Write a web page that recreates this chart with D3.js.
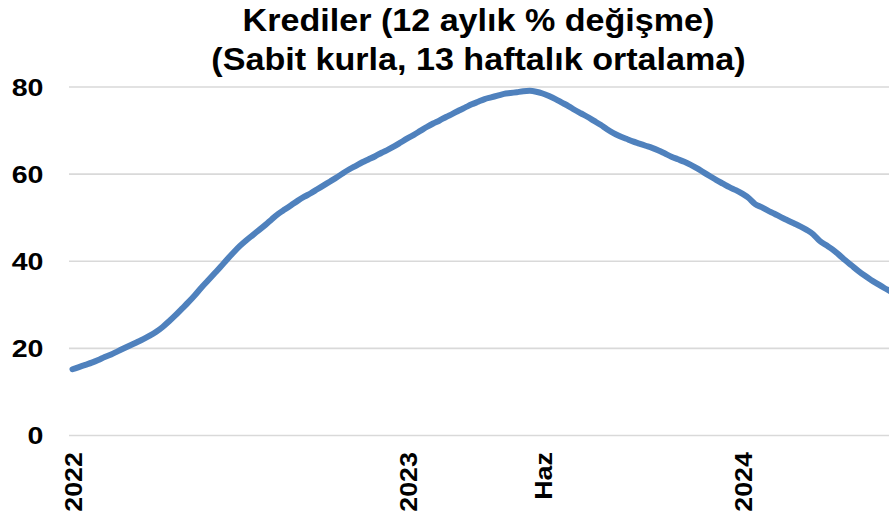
<!DOCTYPE html>
<html>
<head>
<meta charset="utf-8">
<script src="https://cdn.jsdelivr.net/npm/d3@7"></script>
<style>
  body { margin: 0; background: #fff; }
  svg { display: block; font-family: "Liberation Sans", Arial, sans-serif; }
</style>
</head>
<body>
<svg id="chart" width="889" height="517"></svg>
<script>
// weekly series, first week of 2022 onward (Friday dates)
const startDate = '2022-01-07';
const krediler = [
  15.1, 15.6, 16.1, 16.6, 17.2, 17.9, 18.5, 19.2, 19.9, 20.6,
  21.3, 22.0, 22.8, 23.7, 24.8, 26.1, 27.5, 29.0, 30.5, 32.1,
  33.8, 35.4, 37.0, 38.6, 40.3, 41.9, 43.4, 44.7, 45.9, 47.1,
  48.3, 49.6, 50.8, 51.8, 52.8, 53.8, 54.7, 55.5, 56.4, 57.3,
  58.2, 59.1, 60.1, 61.0, 61.8, 62.6, 63.3, 64.0, 64.8, 65.5,
  66.3, 67.2, 68.1, 68.9, 69.8, 70.7, 71.5, 72.2, 73.0, 73.7,
  74.5, 75.2, 75.9, 76.5, 77.1, 77.5, 77.9, 78.3, 78.5, 78.7,
  78.9, 79.0, 78.8, 78.4, 77.8, 77.1, 76.3, 75.5, 74.6, 73.8,
  73.0, 72.1, 71.2, 70.2, 69.3, 68.6, 68.0, 67.4, 66.9, 66.4,
  65.9, 65.3, 64.6, 63.9, 63.3, 62.7, 62.0, 61.2, 60.3, 59.4,
  58.5, 57.7, 56.9, 56.2, 55.4, 54.4, 53.0, 52.3, 51.5, 50.8,
  50.0, 49.3, 48.6, 47.9, 47.1, 46.1, 44.6, 43.6, 42.6, 41.4,
  40.1, 38.9, 37.7, 36.6, 35.6, 34.7, 33.8, 33.0
];
const xTickDates = ['2022-01-07', '2023-01-06', '2023-06-02', '2024-01-05'];
const xTickLabels = ['2022', '2023', 'Haz', '2024'];
const yTicks = [0, 20, 40, 60, 80];
const titleLines = ['Krediler (12 aylık % değişme)', '(Sabit kurla, 13 haftalık ortalama)'];

const parse = d3.utcParse('%Y-%m-%d');
const t0 = parse(startDate);
const data = krediler.map((v, i) => ({ date: d3.utcDay.offset(t0, i * 7), value: v }));

const svg = d3.select('#chart');
const left = 69, right = 889;
const weekPx = 6.44, x0 = 72.5;

const x = d3
  .scaleUtc()
  .domain([data[0].date, data[data.length - 1].date])
  .range([x0, x0 + (data.length - 1) * weekPx]);
const y = d3.scaleLinear().domain([0, 80]).range([435, 86.5]);

// title
svg
  .append('g')
  .selectAll('text')
  .data(titleLines)
  .join('text')
  .attr('transform', (d, i) => `translate(478.5, ${[31, 70][i]}) scale(1.10, 1)`)
  .attr('text-anchor', 'middle')
  .attr('font-size', 31)
  .attr('font-weight', 'bold')
  .attr('fill', '#000')
  .text((d) => d);

// y axis + gridlines
const yAxis = svg
  .append('g')
  .attr('transform', `translate(${left},0)`)
  .call(d3.axisLeft(y).tickValues(yTicks).tickSize(-(right - left)).tickPadding(0));
yAxis.select('.domain').remove();
yAxis.selectAll('.tick line').attr('stroke', '#d9d9d9').attr('stroke-width', 1.6);
yAxis
  .selectAll('.tick text')
  .attr('x', null)
  .attr('dy', null)
  .attr('transform', 'translate(-25.5, 8.7) scale(1.19, 1)')
  .attr('text-anchor', 'end')
  .attr('font-size', 24)
  .attr('font-weight', 'bold')
  .attr('font-family', '"Liberation Sans", Arial, sans-serif')
  .attr('fill', '#000');

// x axis labels
const xAxis = svg
  .append('g')
  .attr('transform', 'translate(0,435)')
  .call(
    d3
      .axisBottom(x)
      .tickValues(xTickDates.map(parse))
      .tickSize(0)
      .tickFormat((d, i) => xTickLabels[i])
  );
xAxis.select('.domain').remove();
xAxis
  .selectAll('.tick text')
  .attr('y', null)
  .attr('dy', null)
  .attr('transform', 'translate(8.9, 17) rotate(-90) scale(1.12, 1)')
  .attr('text-anchor', 'end')
  .attr('font-size', 24)
  .attr('font-weight', 'bold')
  .attr('font-family', '"Liberation Sans", Arial, sans-serif')
  .attr('fill', '#000');

// series line
const line = d3
  .line()
  .x((d) => x(d.date))
  .y((d) => y(d.value))
  .curve(d3.curveMonotoneX);

svg
  .append('path')
  .datum(data)
  .attr('fill', 'none')
  .attr('stroke', '#4f81bd')
  .attr('stroke-width', 6)
  .attr('stroke-linejoin', 'round')
  .attr('stroke-linecap', 'round')
  .attr('d', line);
</script>
</body>
</html>
